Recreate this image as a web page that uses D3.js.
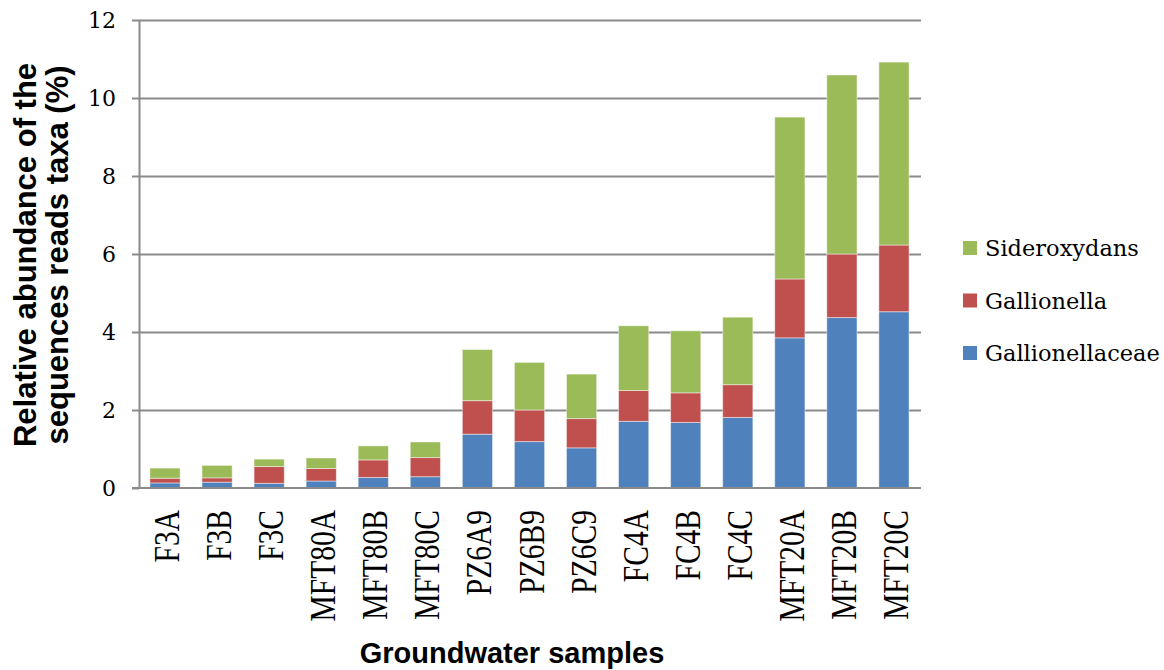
<!DOCTYPE html>
<html>
<head>
<meta charset="utf-8">
<script src="https://cdn.jsdelivr.net/npm/d3@7"></script>
<style>
  html, body { margin: 0; padding: 0; background: #fff; }
  svg { display: block; }
  .serif { font-family: "Liberation Serif", "Times New Roman", serif; }
  .serif2 { font-family: "DejaVu Serif", serif; }
  .sansb { font-family: "Liberation Sans", Arial, sans-serif; font-weight: bold; }
</style>
</head>
<body>
<svg id="chart" width="1164" height="670"></svg>
<script>
// ---- data ----
const categories = ["F3A","F3B","F3C","MFT80A","MFT80B","MFT80C","PZ6A9","PZ6B9","PZ6C9","FC4A","FC4B","FC4C","MFT20A","MFT20B","MFT20C"];
const gallionellaceae = [0.13,0.15,0.12,0.18,0.27,0.29,1.38,1.19,1.03,1.71,1.68,1.81,3.85,4.37,4.52];
const gallionella     = [0.12,0.11,0.43,0.32,0.45,0.49,0.86,0.81,0.75,0.79,0.76,0.84,1.51,1.63,1.71];
const sideroxydans    = [0.26,0.32,0.19,0.27,0.36,0.40,1.31,1.22,1.14,1.66,1.59,1.73,4.15,4.59,4.69];
const seriesNames = ["Gallionellaceae","Gallionella","Sideroxydans"];
const seriesColors = ["#4F81BD","#C0504D","#9BBB59"];
const yTicks = [0,2,4,6,8,10,12];
const yTitleLines = ["Relative abundance of the","sequences reads taxa (%)"];
const xTitle = "Groundwater samples";

// ---- build table ----
const table = categories.map((c,i) => ({
  cat: c,
  Gallionellaceae: gallionellaceae[i],
  Gallionella: gallionella[i],
  Sideroxydans: sideroxydans[i]
}));

const svg = d3.select("#chart");
const L = 139, R = 920, T = 20, B = 488;

const x = d3.scaleBand().domain(categories).range([L, R]).paddingInner(0.42).paddingOuter(0.21);
const y = d3.scaleLinear().domain([0, 12]).range([B, T]);
const color = d3.scaleOrdinal().domain(seriesNames).range(seriesColors);

// gridlines
const grid = svg.append("g").attr("transform", `translate(${L},0)`)
  .call(d3.axisRight(y).tickValues(yTicks.filter(t => t > 0)).tickSize(R - L + 1).tickFormat(""));
grid.select(".domain").remove();
grid.selectAll("line").attr("stroke", "#8a8a8a").attr("stroke-width", 2);

// bars
const stacked = d3.stack().keys(seriesNames)(table);
svg.append("g").selectAll("g").data(stacked).join("g")
  .attr("fill", d => color(d.key))
  .selectAll("rect").data(d => d).join("rect")
  .attr("x", d => x(d.data.cat))
  .attr("width", x.bandwidth())
  .attr("y", d => y(d[1]))
  .attr("height", d => y(d[0]) - y(d[1]))
  .attr("stroke", "rgba(255,255,255,0.45)")
  .attr("stroke-width", 1);

// y axis
const yAxis = svg.append("g").attr("transform", `translate(${L},0)`)
  .call(d3.axisLeft(y).tickValues(yTicks).tickSizeInner(7).tickSizeOuter(0).tickPadding(16));
yAxis.attr("font-family", null).attr("font-size", null);
yAxis.select(".domain").attr("stroke", "#8a8a8a").attr("stroke-width", 2);
yAxis.selectAll("line").attr("stroke", "#8a8a8a").attr("stroke-width", 2);
yAxis.selectAll("text").attr("class", "serif2")
  .style("font-size", "22px").attr("fill", "#000");

// x axis baseline
const xAxis = svg.append("g").attr("transform", `translate(0,${B})`)
  .call(d3.axisBottom(x).tickSize(0).tickFormat(""));
xAxis.select(".domain").attr("stroke", "#8a8a8a").attr("stroke-width", 2)
  .attr("d", `M${L - 7},0H${R + 1}`);

// x tick labels (rotated)
svg.append("g").selectAll("text").data(categories).join("text")
  .attr("class", "serif")
  .attr("transform", d => `translate(${x(d) + x.bandwidth() / 2 + 14},510) rotate(-90) scale(0.82,1)`)
  .attr("text-anchor", "end")
  .style("font-size", "36px")
  .attr("fill", "#000")
  .text(d => d);

// axis titles
svg.append("text")
  .attr("class", "sansb")
  .attr("x", 512).attr("y", 663)
  .attr("text-anchor", "middle")
  .style("font-size", "29px")
  .text(xTitle);

svg.append("g").selectAll("text").data(yTitleLines).join("text")
  .attr("class", "sansb")
  .attr("transform", (d, i) => `translate(${36 + i * 32},255) rotate(-90)`)
  .attr("text-anchor", "middle")
  .style("font-size", "31px")
  .text(d => d);

// legend
const legendOrder = seriesNames.slice().reverse();
const lg = svg.append("g").selectAll("g").data(legendOrder).join("g")
  .attr("transform", (d, i) => `translate(963,${241 + i * 52.5})`);
lg.append("rect").attr("width", 14).attr("height", 14).attr("fill", d => color(d));
lg.append("text").attr("class", "serif2").attr("x", 22).attr("y", 15)
  .style("font-size", "22.5px")
  .attr("fill", "#000")
  .text(d => d);
</script>
</body>
</html>
